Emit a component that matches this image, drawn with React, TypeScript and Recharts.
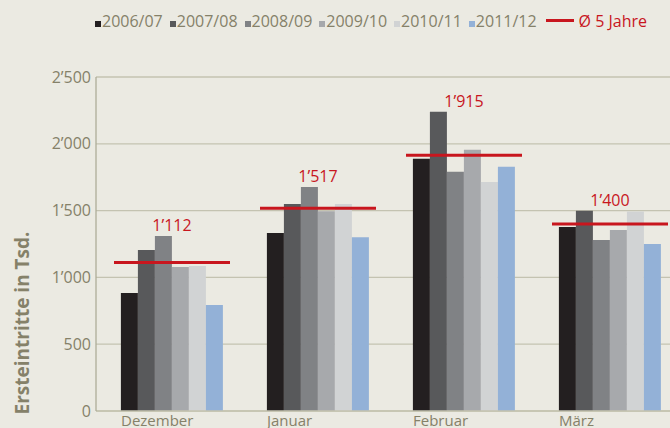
import { ComposedChart, Bar, Line, XAxis, YAxis, CartesianGrid } from 'recharts'

const BG    = '#ebeae2'
const GRID  = '#c4c3b1'
const TEXT  = '#858169'
const RED   = '#c8161e'
const FONT  = '"Open Sans", sans-serif'

const months = ['Dezember', 'Januar', 'Februar', 'März']
const s0607  = [883, 1333, 1888, 1378]
const s0708  = [1205, 1550, 2240, 1498]
const s0809  = [1310, 1676, 1790, 1280]
const s0910  = [1078, 1495, 1955, 1355]
const s1011  = [1085, 1550, 1715, 1493]
const s1112  = [793, 1300, 1828, 1250]
const avg5   = [1112, 1517, 1915, 1400]
const yTicks = [0, 500, 1000, 1500, 2000, 2500]

const SERIES = [
  { key: 's0607', name: '2006/07', color: '#231f20' },
  { key: 's0708', name: '2007/08', color: '#58595b' },
  { key: 's0809', name: '2008/09', color: '#808285' },
  { key: 's0910', name: '2009/10', color: '#a7a9ac' },
  { key: 's1011', name: '2010/11', color: '#d1d3d4' },
  { key: 's1112', name: '2011/12', color: '#93b1d7' },
]

const data = months.map((m, i) => {
  const vals = [s0607[i], s0708[i], s0809[i], s0910[i], s1011[i], s1112[i]]
  return {
    month: m,
    s0607: s0607[i], s0708: s0708[i], s0809: s0809[i],
    s0910: s0910[i], s1011: s1011[i], s1112: s1112[i],
    avg: avg5[i],
    top: Math.max(...vals),
  }
})

const fmt = (v: number) => {
  const s = String(v)
  return s.length > 3 ? s.slice(0, -3) + '’' + s.slice(-3) : s
}

const AvgDash = (p: any) => {
  if (p.cx == null || p.cy == null) return <g key={p.index} />
  return (
    <line key={p.index} x1={p.cx - 58} x2={p.cx + 58} y1={p.cy} y2={p.cy}
      stroke={RED} strokeWidth={3} />
  )
}

const AvgLabel = (p: any) => {
  if (p.cx == null || p.cy == null) return <g key={p.index} />
  return (
    <text key={p.index} x={p.cx} y={p.cy - 5} textAnchor="middle"
      fontFamily={FONT} fontSize={16} fill={RED}>
      {fmt(p.payload.avg)}
    </text>
  )
}

// month names sit left-aligned under the first bar of each group
const MonthTick = (p: any) => (
  <text x={p.x - 51} y={426} textAnchor="start" fontFamily={FONT}
    fontSize={15} fill={TEXT}>
    {p.payload.value}
  </text>
)

function LegendRow() {
  return (
    <div style={{
      position: 'absolute', top: 10, left: 95, display: 'flex',
      alignItems: 'baseline', fontFamily: FONT, fontSize: 16, color: TEXT,
      whiteSpace: 'nowrap',
    }}>
      {SERIES.map((s) => (
        <span key={s.key} style={{ marginRight: 7 }}>
          <span style={{
            display: 'inline-block', width: 6, height: 6, background: s.color,
            marginRight: 1,
          }} />
          {s.name}
        </span>
      ))}
      <span style={{ color: RED, marginLeft: 2 }}>
        <span style={{
          display: 'inline-block', width: 28, height: 3, background: RED,
          marginRight: 5, verticalAlign: 5,
        }} />
        Ø 5 Jahre
      </span>
    </div>
  )
}

export default function App() {
  return (
    <div style={{
      position: 'absolute', left: 0, top: 0, width: 670, height: 428,
      overflow: 'hidden', background: BG,
    }}>
      <LegendRow />
      <ComposedChart
        width={700}
        height={441}
        data={data}
        margin={{ top: 77, right: 17, left: 0, bottom: 0 }}
        barCategoryGap="15%"
        barGap={0}
      >
        <CartesianGrid vertical={false} stroke={GRID} strokeWidth={1.3} />
        <XAxis
          dataKey="month"
          padding={{ left: 3, right: 0 }}
          axisLine={{ stroke: GRID, strokeWidth: 1.3 }}
          tickLine={false}
          tick={<MonthTick />}
          interval={0}
        />
        <YAxis
          width={96}
          domain={[0, 2500]}
          ticks={yTicks}
          tickFormatter={fmt}
          axisLine={{ stroke: '#aeac98', strokeWidth: 1.3 }}
          tickLine={false}
          tickSize={0}
          tickMargin={5}
          tick={{ fontFamily: FONT, fontSize: 16, fill: TEXT }}
          label={() => (
            <text
              x={29} y={323}
              transform="rotate(-90, 29, 323)"
              textAnchor="middle"
              fontFamily={FONT} fontWeight={700} fontSize={19} fill={TEXT}
            >
              Ersteintritte in Tsd.
            </text>
          )}
        />
        {SERIES.map((s) => (
          <Bar key={s.key} dataKey={s.key} name={s.name} fill={s.color}
            isAnimationActive={false} />
        ))}
        <Line dataKey="avg" stroke="none" dot={AvgDash} activeDot={false}
          legendType="none" isAnimationActive={false} />
        <Line dataKey="top" stroke="none" dot={AvgLabel} activeDot={false}
          legendType="none" isAnimationActive={false} />
      </ComposedChart>
    </div>
  )
}
